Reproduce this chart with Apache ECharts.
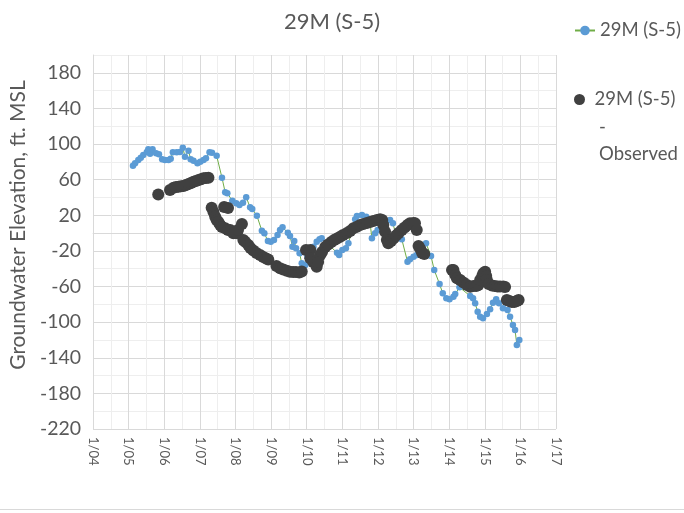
<!DOCTYPE html>
<html>
<head>
<meta charset="utf-8">
<script src="https://cdn.jsdelivr.net/npm/echarts@6/dist/echarts.min.js"></script>
<style>html,body{margin:0;padding:0;background:#fff}#chart{width:684px;height:513px}</style>
</head>
<body>
<div id="chart"></div>
<script>
// ---- data ----
var titleText = '29M (S-5)';
var modelName = '29M (S-5)';
var obsName = '29M (S-5) - Observed';
var obsLegendLines = ['29M (S-5)', '-', 'Observed'];
var yAxisName = 'Groundwater Elevation, ft. MSL';
var xTickYears = [2004, 2005, 2006, 2007, 2008, 2009, 2010, 2011, 2012, 2013, 2014, 2015, 2016, 2017];
var xTickLabels = ['1/04', '1/05', '1/06', '1/07', '1/08', '1/09', '1/10', '1/11', '1/12', '1/13', '1/14', '1/15', '1/16', '1/17'];
var yTickLabels = [-220, -180, -140, -100, -60, -20, 20, 60, 100, 140, 180];

var modelYears = [2005.12, 2005.18, 2005.27, 2005.34, 2005.41, 2005.51, 2005.55, 2005.60, 2005.67, 2005.77,
  2005.85, 2005.94, 2006.02, 2006.12, 2006.18, 2006.24, 2006.35, 2006.44, 2006.52, 2006.58,
  2006.68, 2006.74, 2006.82, 2006.93, 2007.01, 2007.10, 2007.17, 2007.27, 2007.34, 2007.47,
  2007.62, 2007.71, 2007.77, 2007.91, 2008.02, 2008.11, 2008.21, 2008.30, 2008.41, 2008.47,
  2008.60, 2008.74, 2008.81, 2008.91, 2008.99, 2009.08, 2009.18, 2009.25, 2009.32, 2009.47,
  2009.53, 2009.60, 2009.65, 2009.70, 2009.80, 2009.86, 2009.96, 2010.02, 2010.19, 2010.28,
  2010.36, 2010.42, 2010.85, 2010.91, 2011.00, 2011.10, 2011.17, 2011.36, 2011.41, 2011.55,
  2011.67, 2011.78, 2011.83, 2011.92, 2011.99, 2012.20, 2012.34, 2012.42, 2012.53, 2012.67,
  2012.83, 2012.90, 2013.00, 2013.09, 2013.23, 2013.35, 2013.49, 2013.58, 2013.73, 2013.82,
  2013.92, 2014.01, 2014.12, 2014.17, 2014.29, 2014.59, 2014.67, 2014.73, 2014.80, 2014.87,
  2014.95, 2015.06, 2015.15, 2015.23, 2015.32, 2015.40, 2015.51, 2015.64, 2015.71, 2015.79,
  2015.85, 2015.90, 2015.97];
var modelValues = [75.7, 78.4, 82.1, 84.7, 87.7, 91.1, 94.1, 89.2, 94.1, 89.6,
  88.5, 82.9, 82.1, 82.1, 83.5, 90.7, 90.7, 91.1, 95.9, 85.8,
  92.5, 82.9, 81.3, 78.4, 80.2, 82.1, 84.0, 90.7, 90.3, 86.9,
  62.2, 45.8, 44.7, 36.4, 33.5, 31.6, 34.1, 40.2, 29.0, 27.1,
  19.5, 2.7, -0.2, -8.9, -9.7, -7.7, -2.1, 3.5, 6.5, 0.4,
  -3.3, -15.3, -8.9, -17.1, -22.7, -33.9, -35.8, -26.5, -15.3, -9.7,
  -7.0, -5.8, -22.0, -24.6, -19.0, -17.1, -11.5, 15.5, 19.2, 20.3,
  18.4, 11.0, -5.8, -0.2, 3.5, 7.2, 14.7, 11.0, -5.8, -7.0,
  -32.1, -29.4, -26.5, -24.6, -13.4, -11.5, -25.7, -41.4, -57.2, -67.6,
  -73.2, -74.3, -71.4, -68.4, -60.9, -70.6, -73.2, -78.8, -88.3, -93.9,
  -95.7, -90.8, -85.6, -78.2, -74.3, -78.8, -84.4, -86.4, -93.9, -103.2,
  -108.8, -125.7, -120.0];

var obsYears = [2005.83, 2006.16, 2006.26, 2006.33, 2006.40, 2006.47, 2006.54, 2006.61, 2006.68, 2006.75,
  2006.82, 2006.89, 2006.96, 2007.03, 2007.10, 2007.17, 2007.24, 2007.33, 2007.38, 2007.43,
  2007.47, 2007.52, 2007.57, 2007.62, 2007.68, 2007.79, 2007.71, 2007.79, 2007.85, 2007.94,
  2008.04, 2008.07, 2008.18, 2008.22, 2008.27, 2008.36, 2008.42, 2008.50, 2008.59, 2008.69,
  2008.78, 2008.86, 2008.92, 2009.15, 2009.25, 2009.34, 2009.44, 2009.53, 2009.62, 2009.70,
  2009.79, 2009.86, 2009.98, 2010.10, 2010.10, 2010.18, 2010.28, 2010.32, 2010.38, 2010.43,
  2010.52, 2010.60, 2010.69, 2010.77, 2010.85, 2010.94, 2011.02, 2011.13, 2011.22, 2011.31,
  2011.41, 2011.50, 2011.59, 2011.69, 2011.78, 2011.87, 2011.97, 2012.06, 2012.12, 2012.15,
  2012.20, 2012.25, 2012.29, 2012.37, 2012.44, 2012.51, 2012.58, 2012.67, 2012.75, 2012.83,
  2012.90, 2013.00, 2013.04, 2013.09, 2013.14, 2013.19, 2013.24, 2013.30, 2014.08, 2014.12,
  2014.17, 2014.22, 2014.31, 2014.40, 2014.50, 2014.59, 2014.68, 2014.76, 2014.82, 2014.87,
  2014.93, 2014.96, 2015.01, 2015.04, 2015.06, 2015.11, 2015.20, 2015.28, 2015.36, 2015.43,
  2015.52, 2015.57, 2015.62, 2015.69, 2015.76, 2015.83, 2015.90, 2015.95];
var obsValues = [43.3, 48.4, 51.0, 51.8, 52.1, 52.6, 52.9, 54.0, 55.1, 56.3,
  57.7, 58.5, 59.6, 60.4, 61.5, 61.9, 62.2, 28.5, 23.7, 18.4,
  14.7, 12.5, 9.1, 6.9, 29.3, 28.2, 5.4, 3.5, 3.5, -0.2,
  -0.2, 3.5, 10.2, -7.7, -9.7, -13.4, -16.7, -19.5, -22.3, -24.6,
  -26.8, -28.5, -29.6, -37.0, -39.5, -40.9, -42.2, -43.3, -43.7, -43.7,
  -44.2, -43.0, -19.0, -19.0, -28.3, -32.4, -37.7, -32.4, -24.6, -21.2,
  -15.6, -12.8, -10.0, -7.7, -6.1, -4.0, -2.1, 0.1, 2.4, 5.4,
  7.2, 9.1, 10.2, 11.3, 12.5, 13.6, 14.7, 15.5, 14.7, 9.1,
  1.6, -7.7, -11.5, -8.9, -5.8, -2.7, 0.1, 3.5, 6.3, 9.1,
  11.0, 11.3, 11.0, 3.5, -14.5, -17.9, -22.3, -23.5, -41.4, -41.4,
  -47.0, -50.8, -52.7, -55.5, -58.3, -60.2, -59.4, -59.4, -58.3, -52.7,
  -48.2, -45.1, -43.3, -48.2, -52.7, -57.2, -58.8, -59.4, -60.0, -60.0,
  -60.0, -60.5, -75.1, -76.2, -77.4, -77.4, -76.2, -75.1];

// ---- build ----
function pairs(xs, ys) {
  var out = [];
  for (var i = 0; i < Math.min(xs.length, ys.length); i++) out.push([xs[i], ys[i]]);
  return out;
}
var FONT = 'Lato, "Open Sans", sans-serif';
var TXT = '#595959';
var LEG_FS = 18.5;

var chart = echarts.init(document.getElementById('chart'), null, {renderer: 'canvas'});
chart.setOption({
  backgroundColor: '#ffffff',
  animation: false,
  title: {
    text: titleText,
    left: 327, top: 6, textAlign: 'center',
    textStyle: {fontFamily: FONT, fontSize: 22, fontWeight: 'normal', color: TXT}
  },
  legend: [{
    data: [modelName],
    orient: 'vertical', left: 574, top: 21, padding: 0,
    itemWidth: 20, itemHeight: 12,
    textStyle: {fontFamily: FONT, fontSize: LEG_FS, color: TXT}
  }, {
    data: [{name: obsName, icon: 'circle'}],
    orient: 'vertical', left: 574, top: 90, padding: 0,
    itemWidth: 20, itemHeight: 11,
    formatter: function () { return obsLegendLines[0]; },
    textStyle: {fontFamily: FONT, fontSize: LEG_FS, color: TXT}
  }],
  grid: {left: 93, right: 128, top: 55, bottom: 84, containLabel: false},
  xAxis: {
    type: 'value', min: 2004, max: 2017, interval: 0.5,
    axisLine: {show: true, lineStyle: {color: '#d9d9d9'}},
    axisTick: {show: false},
    axisLabel: {
      rotate: -90, margin: 8, fontFamily: FONT, fontSize: 13, color: TXT,
      showMinLabel: true, showMaxLabel: true,
      formatter: function (v) {
        var i = xTickYears.indexOf(Math.round(v * 100) / 100);
        return i >= 0 ? xTickLabels[i] : '';
      }
    },
    splitLine: {show: true, lineStyle: {color: ['#d9d9d9', '#eeeeee'], width: 1}}
  },
  yAxis: {
    type: 'value', min: -220, max: 200, interval: 20,
    name: yAxisName, nameLocation: 'middle', nameGap: 63, nameRotate: 90,
    nameTextStyle: {fontFamily: FONT, fontSize: 21, color: TXT, padding: [0, 0, 0, 34]},
    axisLine: {show: true, lineStyle: {color: '#d9d9d9'}},
    axisTick: {show: false},
    axisLabel: {
      margin: 12, fontFamily: FONT, fontSize: 19.5, color: TXT,
      showMinLabel: true, showMaxLabel: true,
      formatter: function (v) { return yTickLabels.indexOf(v) >= 0 ? String(v) : ''; }
    },
    splitLine: {show: true, lineStyle: {color: ['#d9d9d9', '#eeeeee'], width: 1}}
  },
  series: [{
    name: modelName, type: 'line',
    data: pairs(modelYears, modelValues),
    symbol: 'circle', symbolSize: 6.5, showSymbol: true,
    lineStyle: {color: '#70AD47', width: 1},
    itemStyle: {color: '#5B9BD5'},
    z: 2
  }, {
    name: obsName, type: 'scatter',
    data: pairs(obsYears, obsValues),
    symbol: 'circle', symbolSize: 12,
    itemStyle: {color: '#404040', opacity: 1},
    z: 3
  }],
  graphic: [{
    type: 'text', left: 599, top: 118,
    style: {text: obsLegendLines[1], font: LEG_FS + 'px ' + FONT, fill: TXT}
  }, {
    type: 'text', left: 599, top: 145,
    style: {text: obsLegendLines[2], font: LEG_FS + 'px ' + FONT, fill: TXT}
  }, {
    type: 'line', shape: {x1: 0, y1: 509.5, x2: 684, y2: 509.5},
    style: {stroke: '#d9d9d9', lineWidth: 1}
  }]
});
</script>
</body>
</html>
